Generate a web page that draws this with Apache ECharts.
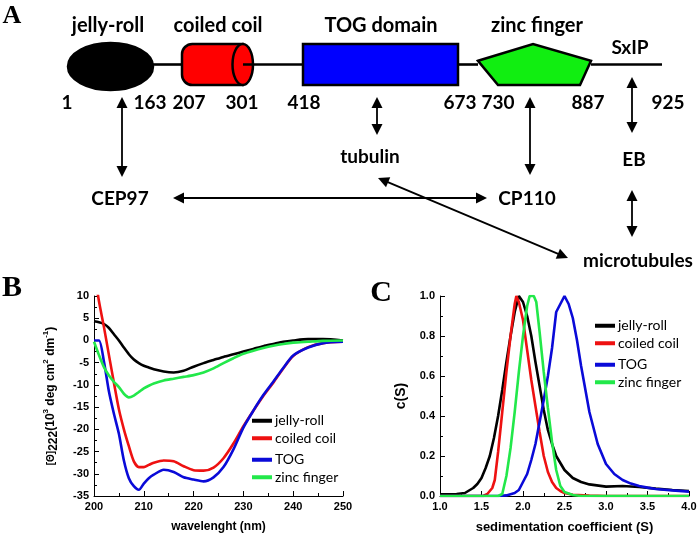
<!DOCTYPE html>
<html><head><meta charset="utf-8">
<script src="https://cdn.jsdelivr.net/npm/echarts@6/dist/echarts.min.js"></script>
<style>html,body{margin:0;padding:0;background:#fff}#c{width:700px;height:534px}</style>
</head><body><div id="c"></div>
<script>
// ---------- Panel A (schematic, layout units = page pixels on a hidden axis) ----------
const domainNames = ['jelly-roll', 'coiled coil', 'TOG domain', 'zinc finger'];
const domainShapes = ['ellipse', 'cylinder', 'rect', 'pentagon'];
const domainColors = ['#000000', '#ff0000', '#0000ff', '#11ee11'];
const domainLeft = [68, 182, 303, 478];
const domainRight = [153, 253, 458, 591];
const domainTop = [43, 44, 44, 44];
const domainBottom = [90, 85, 85, 85];
const domainLabelX = [108, 218, 381, 537];
const domainLabelY = [26, 26, 26, 26];
const motifName = 'SxIP';
const motifXY = [630, 48];
const backboneSegments = [[[153, 64], [182, 64]], [[243, 64], [303, 64]], [[458, 64], [478, 64]], [[591, 64], [662, 64]]];
const residueLabels = ['1', '163', '207', '301', '418', '673', '730', '887', '925'];
const residueX = [67, 150, 189, 242, 304, 460, 498, 588, 668];
const residueY = 103;
const partnerNames = ['CEP97', 'tubulin', 'CP110', 'EB', 'microtubules'];
const partnerX = [120, 370, 527, 634, 583];
const partnerY = [199, 157, 199, 160, 261];
const partnerAlign = ['center', 'center', 'center', 'center', 'left'];
const arrows = [
  [[122, 97], [122, 177]],
  [[377, 97], [377, 135]],
  [[530, 97], [530, 175]],
  [[632, 77], [632, 133]],
  [[632, 190], [632, 237]],
  [[173, 198], [487, 198]],
  [[378, 178], [568, 258]]
];
const panelLetters = ['A', 'B', 'C'];
const panelLetterX = [12, 12, 381];
const panelLetterY = [16, 288, 293];
const panelLetterSize = [26, 30, 30];

// ---------- Panel B: CD spectra ----------
const cdWavelength = [200,201,202,203,204,205,206,207,208,209,210,211,212,214,216,218,220,222,224,226,228,230,232,234,236,238,240,243,246,250];
const cdJellyRoll = [4.3,4.1,3.7,2.8,1.4,0,-1.6,-3.1,-4.3,-5.1,-5.7,-6.1,-6.5,-7.0,-7.2,-6.8,-5.9,-5.1,-4.4,-3.7,-3.1,-2.5,-1.9,-1.3,-0.8,-0.3,0,0.3,0.3,0];
const cdCoiledCoil = [16,8.8,3,-3.3,-9.5,-15.5,-20,-23.8,-27.2,-28.5,-28.5,-28.0,-27.5,-27.0,-27.2,-28.3,-29.2,-29.3,-28.6,-26.5,-23.2,-19.3,-15.8,-12.5,-9.5,-6.3,-3.5,-1.5,-0.6,-0.3];
const cdTOG = [0,0,-4.8,-11.5,-16.5,-21,-27,-31,-32.8,-33.6,-32.2,-31,-30.2,-29.1,-29.6,-30.8,-31.3,-31.7,-30.8,-28.5,-24.5,-19.6,-15.8,-12.3,-9.3,-6.2,-3.4,-1.6,-0.6,-0.3];
const cdZincFinger = [-0.3,-3.3,-6.0,-7.9,-9.3,-10.5,-12.0,-12.8,-12.4,-11.6,-10.8,-10.2,-9.7,-9.0,-8.6,-8.2,-7.8,-7.2,-6.3,-5.1,-4.0,-3.0,-2.3,-1.7,-1.2,-0.8,-0.5,-0.3,-0.1,0];

// ---------- Panel C: sedimentation c(S) ----------
const sedJellyRoll = [[1.0,0.008],[1.2,0.01],[1.3,0.015],[1.4,0.04],[1.45,0.06],[1.5,0.09],[1.55,0.14],[1.6,0.2],[1.65,0.29],[1.7,0.4],[1.75,0.53],[1.8,0.67],[1.85,0.8],[1.9,0.92],[1.95,1.0],[2.0,0.97],[2.05,0.9],[2.1,0.8],[2.15,0.67],[2.2,0.55],[2.25,0.43],[2.3,0.33],[2.35,0.26],[2.4,0.2],[2.5,0.13],[2.6,0.09],[2.7,0.07],[2.8,0.058],[3.0,0.047],[3.2,0.05],[3.4,0.045],[3.6,0.037],[3.8,0.03],[4.0,0.025]];
const sedCoiledCoil = [[1.0,0],[1.52,0],[1.57,0.01],[1.63,0.04],[1.66,0.08],[1.7,0.22],[1.75,0.42],[1.8,0.62],[1.85,0.8],[1.9,0.96],[1.92,1.0],[1.95,0.97],[2.0,0.88],[2.05,0.73],[2.1,0.58],[2.15,0.45],[2.2,0.32],[2.25,0.2],[2.3,0.12],[2.35,0.07],[2.4,0.04],[2.45,0.025],[2.5,0.015],[2.6,0.006],[2.8,0.002],[3.0,0],[4.0,0]];
const sedTOG = [[1.0,0],[1.7,0],[1.8,0.003],[1.9,0.015],[1.95,0.03],[2.0,0.07],[2.05,0.11],[2.1,0.18],[2.15,0.26],[2.2,0.37],[2.25,0.48],[2.3,0.6],[2.35,0.74],[2.4,0.92],[2.45,0.96],[2.5,1.0],[2.55,0.96],[2.6,0.89],[2.65,0.78],[2.7,0.65],[2.8,0.42],[2.9,0.26],[3.0,0.16],[3.1,0.11],[3.2,0.08],[3.3,0.062],[3.4,0.05],[3.5,0.042],[3.6,0.035],[3.8,0.028],[4.0,0.022]];
const sedZincFinger = [[1.0,0],[1.7,0],[1.75,0.01],[1.8,0.1],[1.85,0.24],[1.9,0.42],[1.95,0.62],[2.0,0.8],[2.05,0.95],[2.08,1.0],[2.13,1.0],[2.16,0.97],[2.2,0.82],[2.25,0.62],[2.3,0.44],[2.35,0.27],[2.4,0.13],[2.45,0.05],[2.5,0.02],[2.6,0.005],[2.7,0],[4.0,0]];

const seriesNames = ['jelly-roll', 'coiled coil', 'TOG', 'zinc finger'];
const seriesColors = ['#000000', '#ee1111', '#0a0ad8', '#22e84a'];

// ---------- build ----------
const LBL = 'Lato, "Open Sans", sans-serif';
const AX = '"Liberation Sans", Arial, sans-serif';
const chart = echarts.init(document.getElementById('c'));

const texts = [];
domainNames.forEach((n, i) => texts.push({x: domainLabelX[i], y: domainLabelY[i], text: n, font: 'bold 20px ' + LBL, align: 'center'}));
texts.push({x: motifXY[0], y: motifXY[1], text: motifName, font: 'bold 19px ' + LBL, align: 'center'});
residueLabels.forEach((n, i) => texts.push({x: residueX[i], y: residueY, text: n, font: 'bold 19px ' + LBL, align: 'center'}));
partnerNames.forEach((n, i) => texts.push({x: partnerX[i], y: partnerY[i], text: n, font: 'bold 19px ' + LBL, align: partnerAlign[i]}));
panelLetters.forEach((n, i) => texts.push({x: panelLetterX[i], y: panelLetterY[i], text: n, font: 'bold ' + panelLetterSize[i] + 'px "Liberation Serif", "DejaVu Serif", serif', align: 'center'}));

const HEAD = 11;
function inset(seg) {
  const [a, b] = seg; const dx = b[0] - a[0], dy = b[1] - a[1];
  const L = Math.hypot(dx, dy), ux = dx / L, uy = dy / L, k = HEAD / 2;
  return {coords: [[a[0] + ux * k, a[1] + uy * k], [b[0] - ux * k, b[1] - uy * k]]};
}

const hiddenAxis = {show: false};
const tickCommon = (min, max, interval, fmt) => ({
  type: 'value', min, max, interval,
  axisLine: {show: true, onZero: false, lineStyle: {color: '#000', width: 1}},
  axisTick: {show: true, inside: true, length: 5, lineStyle: {color: '#000', width: 1}},
  minorTick: {show: true, splitNumber: 2, length: 3, lineStyle: {color: '#000', width: 1}},
  splitLine: {show: false}, minorSplitLine: {show: false},
  axisLabel: {color: '#000', fontFamily: AX, fontWeight: 'bold', fontSize: 11, margin: 5, formatter: fmt}
});

const yNameB = '{s|[Θ]}{sub|222}{n|(10}{sup|3}{n| deg cm}{sup|2}{n| dm}{sup|-1}{n|)}';
const richB = {
  n: {fontSize: 12, fontWeight: 'bold', fontFamily: AX, color: '#000', lineHeight: 18},
  s: {fontSize: 10, fontWeight: 'bold', fontFamily: AX, color: '#000', lineHeight: 18},
  sub: {fontSize: 12, fontWeight: 'bold', fontFamily: AX, color: '#000', verticalAlign: 'bottom', lineHeight: 18, padding: [4, 0, 0, 0]},
  sup: {fontSize: 8, fontWeight: 'bold', fontFamily: AX, color: '#000', verticalAlign: 'top', lineHeight: 18}
};

const series = [];
// panel A
series.push({type: 'lines', coordinateSystem: 'cartesian2d', xAxisIndex: 0, yAxisIndex: 0, silent: true, z: 3,
  symbol: ['none', 'none'], lineStyle: {color: '#000', width: 2.6, opacity: 1, curveness: 0},
  data: backboneSegments.map(s => ({coords: s}))});
series.push({type: 'custom', coordinateSystem: 'cartesian2d', xAxisIndex: 0, yAxisIndex: 0, silent: true, z: 2,
  data: domainLeft.map((l, i) => [l, domainTop[i], domainRight[i], domainBottom[i]]),
  renderItem(params, api) {
    const i = params.dataIndex;
    const a = api.coord([api.value(0), api.value(1)]);
    const b = api.coord([api.value(2), api.value(3)]);
    const x = a[0], y = a[1], w = b[0] - a[0], h = b[1] - a[1];
    const st = {fill: domainColors[i], stroke: '#000', lineWidth: 2.5};
    const kind = domainShapes[i];
    if (kind === 'ellipse') return {type: 'ellipse', shape: {cx: x + w / 2, cy: y + h / 2, rx: w / 2, ry: h / 2}, style: st};
    if (kind === 'rect') return {type: 'rect', shape: {x, y, width: w, height: h}, style: st};
    if (kind === 'pentagon') return {type: 'polygon', shape: {points: [[x, y + 0.41 * h], [x + 0.487 * w, y], [x + w, y + 0.41 * h], [x + 0.903 * w, y + h], [x + 0.177 * w, y + h]]}, style: st};
    const rx = h / 4;
    return {type: 'group', children: [
      {type: 'rect', shape: {x, y, width: w - rx, height: h, r: [rx, 0, 0, rx]}, style: st},
      {type: 'ellipse', shape: {cx: x + w - rx, cy: y + h / 2, rx, ry: h / 2}, style: st}
    ]};
  }});
series.push({type: 'lines', coordinateSystem: 'cartesian2d', xAxisIndex: 0, yAxisIndex: 0, silent: true, z: 3,
  symbol: ['triangle', 'triangle'], symbolSize: HEAD,
  itemStyle: {color: '#000'},
  lineStyle: {color: '#000', width: 1.8, opacity: 1, curveness: 0},
  data: arrows.map(inset)});
series.push({type: 'custom', coordinateSystem: 'cartesian2d', xAxisIndex: 0, yAxisIndex: 0, silent: true, z: 4,
  data: texts.map(t => [t.x, t.y]),
  renderItem(params, api) {
    const t = texts[params.dataIndex];
    const p = api.coord([api.value(0), api.value(1)]);
    return {type: 'text', x: p[0], y: p[1], style: {text: t.text, fill: '#000', font: t.font, align: t.align, verticalAlign: 'middle'}};
  }});
// panel B
[cdJellyRoll, cdCoiledCoil, cdTOG, cdZincFinger].forEach((arr, i) => series.push({
  type: 'line', name: seriesNames[i], xAxisIndex: 1, yAxisIndex: 1, showSymbol: false, symbol: 'none',
  smooth: 0.25, clip: true, color: seriesColors[i], lineStyle: {color: seriesColors[i], width: 2.6},
  data: cdWavelength.map((w, k) => [w, arr[k]])
}));
// panel C
[sedJellyRoll, sedCoiledCoil, sedTOG, sedZincFinger].forEach((arr, i) => series.push({
  type: 'line', name: seriesNames[i], xAxisIndex: 2, yAxisIndex: 2, showSymbol: false, symbol: 'none',
  clip: true, color: seriesColors[i], lineStyle: {color: seriesColors[i], width: 2.6},
  data: arr
}));

const legendBase = (left, top, data) => ({
  left, top, orient: 'vertical', itemGap: 0, itemWidth: 20, itemHeight: 4, icon: 'rect', selectedMode: false,
  padding: 0, data,
  textStyle: {color: '#000', fontFamily: LBL, fontSize: 14, lineHeight: 17.5, padding: [0, 0, 0, -2]}
});

chart.setOption({
  animation: false,
  backgroundColor: '#fff',
  grid: [
    {left: 0, top: 0, width: 700, height: 534, outerBoundsMode: 'none'},
    {left: 94, top: 296, width: 249, height: 200, outerBoundsMode: 'none'},
    {left: 440, top: 296, width: 249, height: 200, outerBoundsMode: 'none'}
  ],
  xAxis: [
    Object.assign({gridIndex: 0, type: 'value', min: 0, max: 700}, hiddenAxis),
    Object.assign(tickCommon(200, 250, 10, v => String(v)), {gridIndex: 1, name: 'wavelenght (nm)', nameLocation: 'middle', nameGap: 25,
      nameTextStyle: {color: '#000', fontFamily: AX, fontWeight: 'bold', fontSize: 12}}),
    Object.assign(tickCommon(1, 4, 0.5, v => v.toFixed(1)), {gridIndex: 2, name: 'sedimentation coefficient (S)', nameLocation: 'middle', nameGap: 25,
      nameTextStyle: {color: '#000', fontFamily: AX, fontWeight: 'bold', fontSize: 13}})
  ],
  yAxis: [
    Object.assign({gridIndex: 0, type: 'value', min: 0, max: 534, inverse: true}, hiddenAxis),
    Object.assign(tickCommon(-35, 10, 5, v => String(v)), {gridIndex: 1, name: yNameB, nameLocation: 'middle', nameGap: 34, nameRotate: 90,
      nameTextStyle: {color: '#000', fontFamily: AX, fontWeight: 'bold', fontSize: 12, rich: richB}}),
    Object.assign(tickCommon(0, 1, 0.2, v => v.toFixed(1)), {gridIndex: 2, name: 'c(S)', nameLocation: 'middle', nameGap: 32, nameRotate: 90,
      nameTextStyle: {color: '#000', fontFamily: AX, fontWeight: 'bold', fontSize: 14}})
  ],
  legend: [
    legendBase(252, 412, seriesNames.slice(0, 2)),
    legendBase(252, 451, seriesNames.slice(2, 4)),
    legendBase(595, 317, seriesNames.slice(0, 2)),
    legendBase(595, 356, seriesNames.slice(2, 4))
  ],
  series
});
</script>
</body></html>
